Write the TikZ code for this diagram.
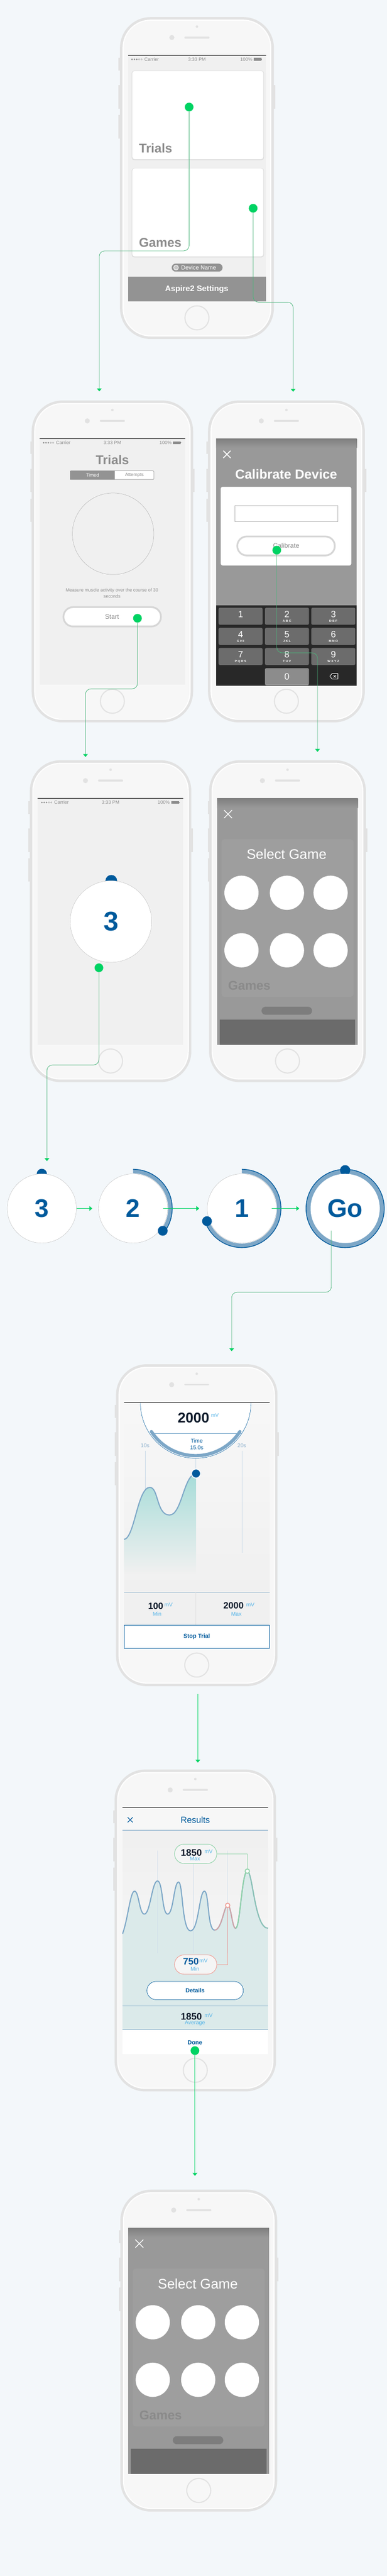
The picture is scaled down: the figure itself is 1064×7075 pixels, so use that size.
\documentclass[tikz,border=0pt]{standalone}
\usepackage{fontspec}
\setmainfont{Liberation Sans}
\usepackage{tikz}
\usetikzlibrary{calc,arrows.meta,positioning}

\definecolor{bgc}{RGB}{243,247,250}
\definecolor{phedge}{RGB}{226,226,226}
\definecolor{bezel}{RGB}{247,247,247}
\definecolor{scrc}{RGB}{240,240,240}
\definecolor{txtgray}{RGB}{140,140,140}
\definecolor{btngray}{RGB}{147,147,147}
\definecolor{dotg}{RGB}{0,211,99}
\definecolor{lineg}{RGB}{76,181,124}
\definecolor{ablue}{RGB}{0,90,156}
\definecolor{ringblue}{RGB}{125,167,199}
\definecolor{mvblue}{RGB}{84,180,232}
\definecolor{darkt}{RGB}{15,27,43}
\definecolor{blurgray}{RGB}{153,153,153}
\definecolor{keyc}{RGB}{108,108,108}
\definecolor{keyz}{RGB}{140,140,140}
\definecolor{kpad}{RGB}{40,40,40}
\definecolor{teala}{RGB}{166,220,216}
\definecolor{tealb}{RGB}{219,234,234}
\definecolor{pillg}{RGB}{145,211,170}
\definecolor{pillr}{RGB}{240,160,152}
\definecolor{tickc}{RGB}{143,178,206}

\newcommand\fsz[1]{\fontsize{#1}{#1}\selectfont}

% 端末の枠、画面の左上 (#1,#2)、画面幅 #3
\newcommand\iphone[3]{%
  \begin{scope}[shift={(#1-22,#2-105)}]
    \pgfmathsetmacro\pw{#3+44}
    \fill[phedge] (-4,112) rectangle (2,147); % 左ボタン
    \fill[phedge] (-4,187) rectangle (2,252);
    \fill[phedge] (-4,269) rectangle (2,333);
    \fill[phedge] (\pw-2,187) rectangle (\pw+4,252); % 右ボタン
    \fill[phedge, rounded corners=84pt] (0,0) rectangle (\pw,884);
    \fill[white, rounded corners=77pt] (7,7) rectangle (\pw-7,877);
    \fill[bezel, rounded corners=74pt] (10,10) rectangle (\pw-10,874);
    \fill[phedge] (\pw/2,26) circle (3.5); % カメラ
    \fill[phedge] (\pw/2-69,56) circle (7);
    \draw[phedge, line width=5pt, line cap=round] (\pw/2-32,56) -- (\pw/2+32,56); % スピーカー
    \draw[phedge, line width=3pt] (\pw/2,826) circle (33); % ホームボタン
  \end{scope}}

% ステータスバー、左 #1、右 #2、上 #3
\newcommand\statbar[3]{%
  \draw[black, line width=1.2pt] (#1,#3) -- (#2,#3);
  \foreach \i in {0,1,2} \fill[gray!90] (#1+11+\i*6.5,#3+11) circle (2.3);
  \foreach \i in {3,4} \draw[gray!90, line width=0.5pt] (#1+11+\i*6.5,#3+11) circle (2);
  \node[stxt, anchor=west] at (#1+45,#3+11) {Carrier};
  \node[stxt] at ({(#1+#2)/2},#3+11) {3:33 PM};
  \node[stxt, anchor=east] at (#2-37,#3+11) {100\%};
  \fill[gray!90] (#2-33,#3+7) rectangle (#2-12,#3+15); % 電池
  \fill[gray!90] (#2-12,#3+9.5) rectangle (#2-10.5,#3+12.5);}

% ゲーム選択画面（ぼかし）、画面の左上 (#1,#2)、名前 #3
\newcommand\selgame[3]{%
  \begin{scope}[shift={(#1,#2)}]
    \fill[blurgray] (0,0) rectangle (387,676);
    \shade[top color=black!50, bottom color=blurgray] (0,0) rectangle (387,26);
    \fill[white, opacity=0.05, rounded corners=8pt] (12,112) rectangle (375,545);
    \node[font=\fsz{35}\bfseries, text=black, opacity=0.12, anchor=west] (#3gm) at (30,514) {Games};
    \fill[black, opacity=0.18, rounded corners=11pt] (122,572) rectangle (261,594);
    \fill[black!58] (7,607) rectangle (380,676); % 下のバー
    \draw[white, line width=2pt] (19,32) -- (41,54) (41,32) -- (19,54); % 閉じる
    \node[font=\fsz{38}, text=white] (#3ttl) at (191,153) {Select Game};
    \foreach \gx in {67,192,312} \foreach \gy in {259,417} \fill[white] (\gx,\gy) circle (47); % ゲームの丸
  \end{scope}}

\begin{document}
\begin{tikzpicture}[x=1pt, y=-1pt,
  every node/.style={inner sep=0pt},
  dot/.style={circle, fill=dotg, minimum size=24pt},
  conn/.style={lineg, line width=1.2pt, rounded corners=15pt, -{Triangle[width=13pt,length=8pt,color=dotg]}},
  arr/.style={dotg, line width=1.6pt, -{Triangle[width=13pt,length=8pt]}},
  stxt/.style={font=\fsz{13}, text=gray!90},
  cnt/.style={circle, fill=white, draw=gray!55, line width=0.6pt, minimum size=190pt, font=\fsz{70}\bfseries, text=ablue},
  pill/.style={rectangle, rounded corners=26pt, minimum width=116pt, minimum height=53pt, fill=white!96!black, line width=1.5pt},
  mv/.style={font=\fsz{15}, text=mvblue},
  big/.style={font=\fsz{26}\bfseries, text=darkt, anchor=base west}]

  \useasboundingbox (0,0) rectangle (1064,7075);
  \fill[bgc] (0,0) rectangle (1064,7075); % 背景

  % ホーム画面
  \iphone{352}{152}{379}
  \fill[scrc] (352,152) rectangle (731,828);
  \statbar{352}{731}{152}
  \fill[black, opacity=0.07, rounded corners=7pt] (362,194) rectangle (726,440);
  \fill[white, rounded corners=6pt] (364,195) rectangle (724,437);
  \node[font=\fsz{35}\bfseries, text=txtgray, anchor=base west] (trc) at (382,419) {Trials};
  \fill[black, opacity=0.07, rounded corners=7pt] (362,462) rectangle (726,707);
  \fill[white, rounded corners=6pt] (364,463) rectangle (724,704);
  \node[font=\fsz{35}\bfseries, text=txtgray, anchor=base west] (gmc) at (382,678) {Games};
  \fill[btngray, rounded corners=11pt] (472,724) rectangle (612,746); % デバイス名
  \fill[white!85!btngray] (484,735) circle (7.5);
  \fill[gray!45] (484,735) circle (5.5);
  \node[font=\fsz{16}, text=white, anchor=west] (dev) at (498,735) {Device Name};
  \fill[btngray] (352,760) rectangle (731,828);
  \node[font=\fsz{22}\bfseries, text=white] (aset) at (541,794) {Aspire2 Settings};
  \node[dot] (d1) at (520,294) {};
  \node[dot] (d2) at (696,572) {};

  % トライアル画面
  \iphone{109}{1205}{400}
  \fill[scrc] (109,1205) rectangle (509,1881);
  \statbar{109}{509}{1205}
  \node[font=\fsz{35}\bfseries, text=txtgray, anchor=base] (trt) at (309,1276) {Trials};
  \fill[white] (193,1293) rectangle (423,1317);
  \fill[btngray] (193,1293) rectangle (316,1317);
  \draw[btngray, line width=1pt, rounded corners=2pt] (193,1293) rectangle (423,1317); % 切替
  \node[font=\fsz{13}, text=white] (tmd) at (254.5,1305) {Timed};
  \node[font=\fsz{13}, text=txtgray] (att) at (369.5,1305) {Attempts};
  \draw[gray!65, line width=0.7pt] (311,1466) circle (112);
  \node[font=\fontsize{12.5}{16}\selectfont, text=txtgray, align=center] (msr) at (308,1629) {Measure muscle activity over the course of 30\\seconds};
  \fill[gray!32, rounded corners=29pt] (172,1665) rectangle (445,1723); % スタートボタン
  \fill[white, rounded corners=24pt] (177,1670) rectangle (440,1718);
  \node[font=\fsz{18}, text=txtgray] (strt) at (308,1694) {Start};
  \node[dot] (d3) at (378,1698) {};

  % 較正画面
  \iphone{594}{1205}{387}
  \fill[blurgray] (594,1205) rectangle (981,1884);
  \shade[top color=black!50, bottom color=blurgray] (594,1205) rectangle (981,1230);
  \draw[white, line width=2.5pt] (614,1238) -- (634,1258) (634,1238) -- (614,1258); % 閉じる
  \node[font=\fsz{36}\bfseries, text=white] (cal) at (787,1303) {Calibrate Device};
  \fill[white, rounded corners=5pt] (607,1337) rectangle (966,1553);
  \draw[gray!60, line width=0.8pt] (646,1389) rectangle (928,1432); % 入力欄
  \fill[gray!32, rounded corners=28.5pt] (650,1471) rectangle (923,1528);
  \fill[white, rounded corners=23.5pt] (655,1476) rectangle (918,1523);
  \node[font=\fsz{18}, text=txtgray] (calb) at (787,1499) {Calibrate};
  \fill[kpad] (594,1662) rectangle (981,1884); % キーパッド
  \foreach \dg/\lt [count=\k from 0] in {1/{},2/ABC,3/DEF,4/GHI,5/JKL,6/MNO,7/PQRS,8/TUV,9/WXYZ}{
    \pgfmathsetmacro\kx{601+mod(\k,3)*127.5}
    \pgfmathsetmacro\ky{1669+floor(\k/3)*55.3}
    \fill[keyc, rounded corners=4pt] (\kx,\ky) rectangle (\kx+121,\ky+47);
    \node[font=\fsz{25}, text=white] (k\dg) at (\kx+60.5,\ky+18) {\dg};
    \node[font=\fsz{8.5}\bfseries\addfontfeature{LetterSpace=30}, text=white] (l\dg) at (\kx+60.5,\ky+37) {\lt};
  }
  \fill[keyz, rounded corners=4pt] (728.5,1835) rectangle (849.5,1882);
  \node[font=\fsz{25}, text=white] (k0) at (789,1858) {0};
  \draw[white, line width=1.3pt, line join=round] (907,1857) -- (913,1850) -- (929,1850) -- (929,1865) -- (913,1865) -- cycle; % 削除
  \draw[white, line width=1.2pt] (917,1854) -- (924,1861) (924,1854) -- (917,1861);
  \node[dot] (d4) at (761,1511) {};

  % カウント画面
  \iphone{104}{2193}{400}
  \fill[scrc] (104,2193) rectangle (504,2869);
  \statbar{104}{504}{2193}
  \fill[ablue] (306,2419) circle (16);
  \node[cnt, minimum size=224pt, font=\fsz{74}\bfseries] (n3) at (305,2531) {3};
  \node[dot] (d5) at (272,2658) {};

  % ゲーム選択画面
  \iphone{597}{2193}{387}
  \selgame{597}{2193}{sa}

  % カウントダウン
  \fill[ablue] (115,3224) circle (14);
  \node[cnt] (c3) at (115,3319) {3};
  \node[cnt] (c2) at (366,3319) {2};
  \draw[ringblue, line width=11pt] (366,3217) arc[start angle=-90, end angle=37, radius=102];
  \draw[ablue, line width=2pt] (366,3211.5) arc[start angle=-90, end angle=37, radius=107.5];
  \fill[ablue] ($(366,3319)+(37:102)$) circle (13.5);
  \node[cnt] (c1) at (665,3319) {1};
  \draw[ringblue, line width=11pt] (665,3217) arc[start angle=-90, end angle=160, radius=102];
  \draw[ablue, line width=2pt] (665,3211.5) arc[start angle=-90, end angle=160, radius=107.5];
  \fill[ablue] ($(665,3319)+(160:102)$) circle (13.5);
  \draw[ringblue, line width=13pt] (949,3319) circle (101);
  \draw[ablue, line width=2pt] (949,3319) circle (107.5);
  \fill[ablue] (949,3214) circle (14);
  \node[cnt, draw=none] (cgo) at (949,3319) {Go};

  % 計測画面
  \iphone{341}{3852}{400}
  \shade[top color=white!97!black, bottom color=scrc] (341,3852) rectangle (741,4373);
  \draw[tickc!50, line width=0.8pt] (400,3985) -- (400,4265) (665,3985) -- (665,4265) (538,4000) -- (538,4040); % 補助線
  \shade[top color=teala, bottom color=scrc] (341,4228) .. controls (370,4225) and (378,4085) .. (412,4085) .. controls (436,4085) and (430,4161) .. (466,4161) .. controls (500,4161) and (505,4050) .. (539,4047) -- (539,4320) -- (341,4320) -- cycle;
  \draw[ringblue, line width=3pt] (341,4228) .. controls (370,4225) and (378,4085) .. (412,4085) .. controls (436,4085) and (430,4161) .. (466,4161) .. controls (500,4161) and (505,4050) .. (539,4047);
  \fill[white] (690,3853) arc[start angle=0, end angle=180, radius=152] -- cycle; % ゲージ
  \draw[ablue, line width=0.8pt] (690,3853) arc[start angle=0, end angle=180, radius=152];
  \draw[ablue!60, line width=0.7pt] (414,3937) -- (662,3937);
  \draw[ringblue, line width=9pt, line cap=round] ($(538,3853)+(33:145)$) arc[start angle=33, end angle=147, radius=145];
  \draw[black, line width=1.2pt] (341,3852) -- (741,3852);
  \node[font=\fsz{39}\bfseries, text=darkt, anchor=base] (val) at (532,3907) {2000};
  \node[font=\fsz{14}, text=mvblue, anchor=base west] (valu) at (580,3892) {mV};
  \node[font=\fsz{15}, text=ablue] (tml) at (541,3957) {Time};
  \node[font=\fsz{15}, text=ablue] (tmv) at (541,3976) {15.0s};
  \node[font=\fsz{15}, text=tickc] (t10) at (399,3970) {10s};
  \node[font=\fsz{15}, text=tickc] (t20) at (665,3970) {20s};
  \node[circle, fill=ablue, draw=white, line width=2.5pt, minimum size=25pt] (pk) at (539,4047) {};
  \fill[scrc] (341,4373) rectangle (741,4463);
  \draw[ringblue, line width=0.8pt] (341,4373) -- (741,4373);
  \draw[gray!25, line width=0.8pt] (538,4373) -- (538,4463);
  \node[big, font=\fsz{25}\bfseries] (mn) at (407,4419) {100};
  \node[mv, anchor=base west] (mnu) at (452,4413) {mV};
  \node[mv] (mnl) at (432,4433) {Min};
  \node[big, font=\fsz{25}\bfseries] (mx) at (614,4418) {2000};
  \node[mv, anchor=base west] (mxu) at (677,4413) {mV};
  \node[mv] (mxl) at (650,4433) {Max};
  \node[rectangle, fill=white, draw=ablue, line width=1.2pt, minimum width=400pt, minimum height=64pt, font=\fsz{16}\bfseries, text=ablue] (stp) at (541,4495.5) {Stop Trial};

  % 結果画面
  \iphone{337}{4965}{400}
  \fill[bezel] (337,4965) rectangle (737,5026);
  \shade[top color=white!94!black, bottom color=white!97!black] (337,5026) rectangle (737,5509);
  \draw[black, line width=1.2pt] (337,4965) -- (737,4965);
  \draw[ablue, line width=1.8pt] (351,4991) -- (365,5005) (365,4991) -- (351,5005); % 閉じる
  \node[font=\fsz{24}, text=ablue] (res) at (537,4999) {Results};
  \draw[ringblue, line width=0.8pt] (337,5026) -- (737,5026);
  \fill[tealb] (337,5311) .. controls (352,5270) and (358,5194) .. (370,5194) .. controls (382,5194) and (383,5257) .. (397,5257) .. controls (413,5257) and (418,5166) .. (433,5166) .. controls (448,5166) and (445,5257) .. (461,5257) .. controls (477,5257) and (478,5169) .. (491,5169) .. controls (503,5169) and (500,5303) .. (524,5303) .. controls (546,5303) and (548,5194) .. (562,5194) .. controls (575,5194) and (570,5301) .. (590,5301) .. controls (610,5301) and (616,5233) .. (626,5233) .. controls (636,5233) and (638,5296) .. (648,5296) .. controls (660,5296) and (665,5139) .. (680,5139) .. controls (695,5139) and (700,5296) .. (737,5296) -- (737,5574) -- (337,5574) -- cycle;
  \draw[tickc!45, line width=0.7pt] (434,5082) -- (434,5364) (533,5082) -- (533,5364) (625,5082) -- (625,5364); % 補助線
  \draw[ringblue, line width=3pt] (337,5311) .. controls (352,5270) and (358,5194) .. (370,5194) .. controls (382,5194) and (383,5257) .. (397,5257) .. controls (413,5257) and (418,5166) .. (433,5166) .. controls (448,5166) and (445,5257) .. (461,5257) .. controls (477,5257) and (478,5169) .. (491,5169) .. controls (503,5169) and (500,5303) .. (524,5303) .. controls (546,5303) and (548,5194) .. (562,5194) .. controls (575,5194) and (570,5301) .. (590,5301) .. controls (610,5301) and (616,5233) .. (626,5233) .. controls (636,5233) and (638,5296) .. (648,5296) .. controls (660,5296) and (665,5139) .. (680,5139) .. controls (695,5139) and (700,5296) .. (737,5296);
  \draw[pillr, opacity=0.7, line width=3pt] (590,5301) .. controls (610,5301) and (616,5233) .. (626,5233) .. controls (636,5233) and (638,5296) .. (648,5296);
  \draw[pillg, line width=3pt] (648,5296) .. controls (660,5296) and (665,5139) .. (680,5139);
  \draw[pillg, opacity=0.6, line width=3pt] (680,5139) .. controls (695,5139) and (700,5296) .. (737,5296);
  \node[circle, fill=white, draw=pillg, line width=2.5pt, minimum size=12pt] (gmax) at (680,5139) {};
  \node[circle, fill=white, draw=pillr, line width=2.5pt, minimum size=12pt] (gmin) at (626,5233) {};
  \node[pill, draw=pillg] (pmax) at (538,5091.5) {};
  \node[pill, draw=pillr] (pmin) at (538,5395.5) {};
  \draw[pillg, line width=1.5pt] (pmax.east) -| (gmax);
  \draw[pillr, line width=1.5pt] (pmin.east) -| (gmin);
  \node[big] (hx) at (497,5097) {1850};
  \node[mv, anchor=base west] (hxu) at (562,5091) {mV};
  \node[mv] (hxl) at (536,5105) {Max};
  \node[big, text=ablue] (hn) at (503,5396) {750};
  \node[mv, anchor=base west] (hnu) at (548,5390) {mV};
  \node[mv] (hnl) at (536,5407) {Min};
  \node[rectangle, rounded corners=25pt, fill=white, draw=ablue, line width=1pt, minimum width=265pt, minimum height=50pt, font=\fsz{16}\bfseries, text=ablue] (det) at (536.5,5467) {Details};
  \draw[ringblue, line width=0.8pt] (337,5509) -- (737,5509);
  \node[big] (av) at (497,5547) {1850};
  \node[mv, anchor=base west] (avu) at (562,5541) {mV};
  \node[mv] (avl) at (536,5557) {Average};
  \draw[ringblue, line width=0.8pt] (337,5574) -- (737,5574);
  \fill[white] (337,5575) rectangle (737,5641);
  \node[font=\fsz{16}\bfseries, text=ablue] (dn) at (536,5610) {Done};
  \node[dot] (d6) at (536,5632) {};

  % ゲーム選択画面 (2)
  \iphone{353}{6119}{387}
  \selgame{353}{6119}{sb}

  % 矢印
  \coordinate (a1) at (273,689);   \coordinate (t2l) at (273,1075);
  \coordinate (b1) at (806,830);   \coordinate (t2r) at (806,1076);
  \coordinate (c1a) at (235,1892); \coordinate (t3l) at (235,2079);
  \coordinate (e1) at (873,1793);  \coordinate (t3r) at (873,2065);
  \coordinate (f1) at (129,2925);  \coordinate (tc3) at (129,3189);
  \coordinate (gos) at (911,3380); \coordinate (g1) at (637,3549); \coordinate (t5) at (637,3711);
  \coordinate (h5) at (544,4652);  \coordinate (t6) at (544,4841);
  \coordinate (t7) at (536,5976);
  \draw[conn] (d1) |- (a1) -- (t2l);
  \draw[conn] (d2) |- (b1) -- (t2r);
  \draw[conn] (d3) |- (c1a) -- (t3l);
  \draw[conn] (d4) |- (e1) -- (t3r);
  \draw[conn] (d5) |- (f1) -- (tc3);
  \draw[arr, shorten >=17pt] (c3) -- (c2);
  \draw[arr, shorten <=-13pt, shorten >=22pt] (c2) -- (c1);
  \draw[arr, shorten <=-13pt, shorten >=31pt] (c1) -- (cgo);
  \draw[conn] (gos) |- (g1) -- (t5);
  \draw[arr] (h5) -- (t6);
  \draw[arr] (d6) -- (t7);
\end{tikzpicture}
\end{document}
